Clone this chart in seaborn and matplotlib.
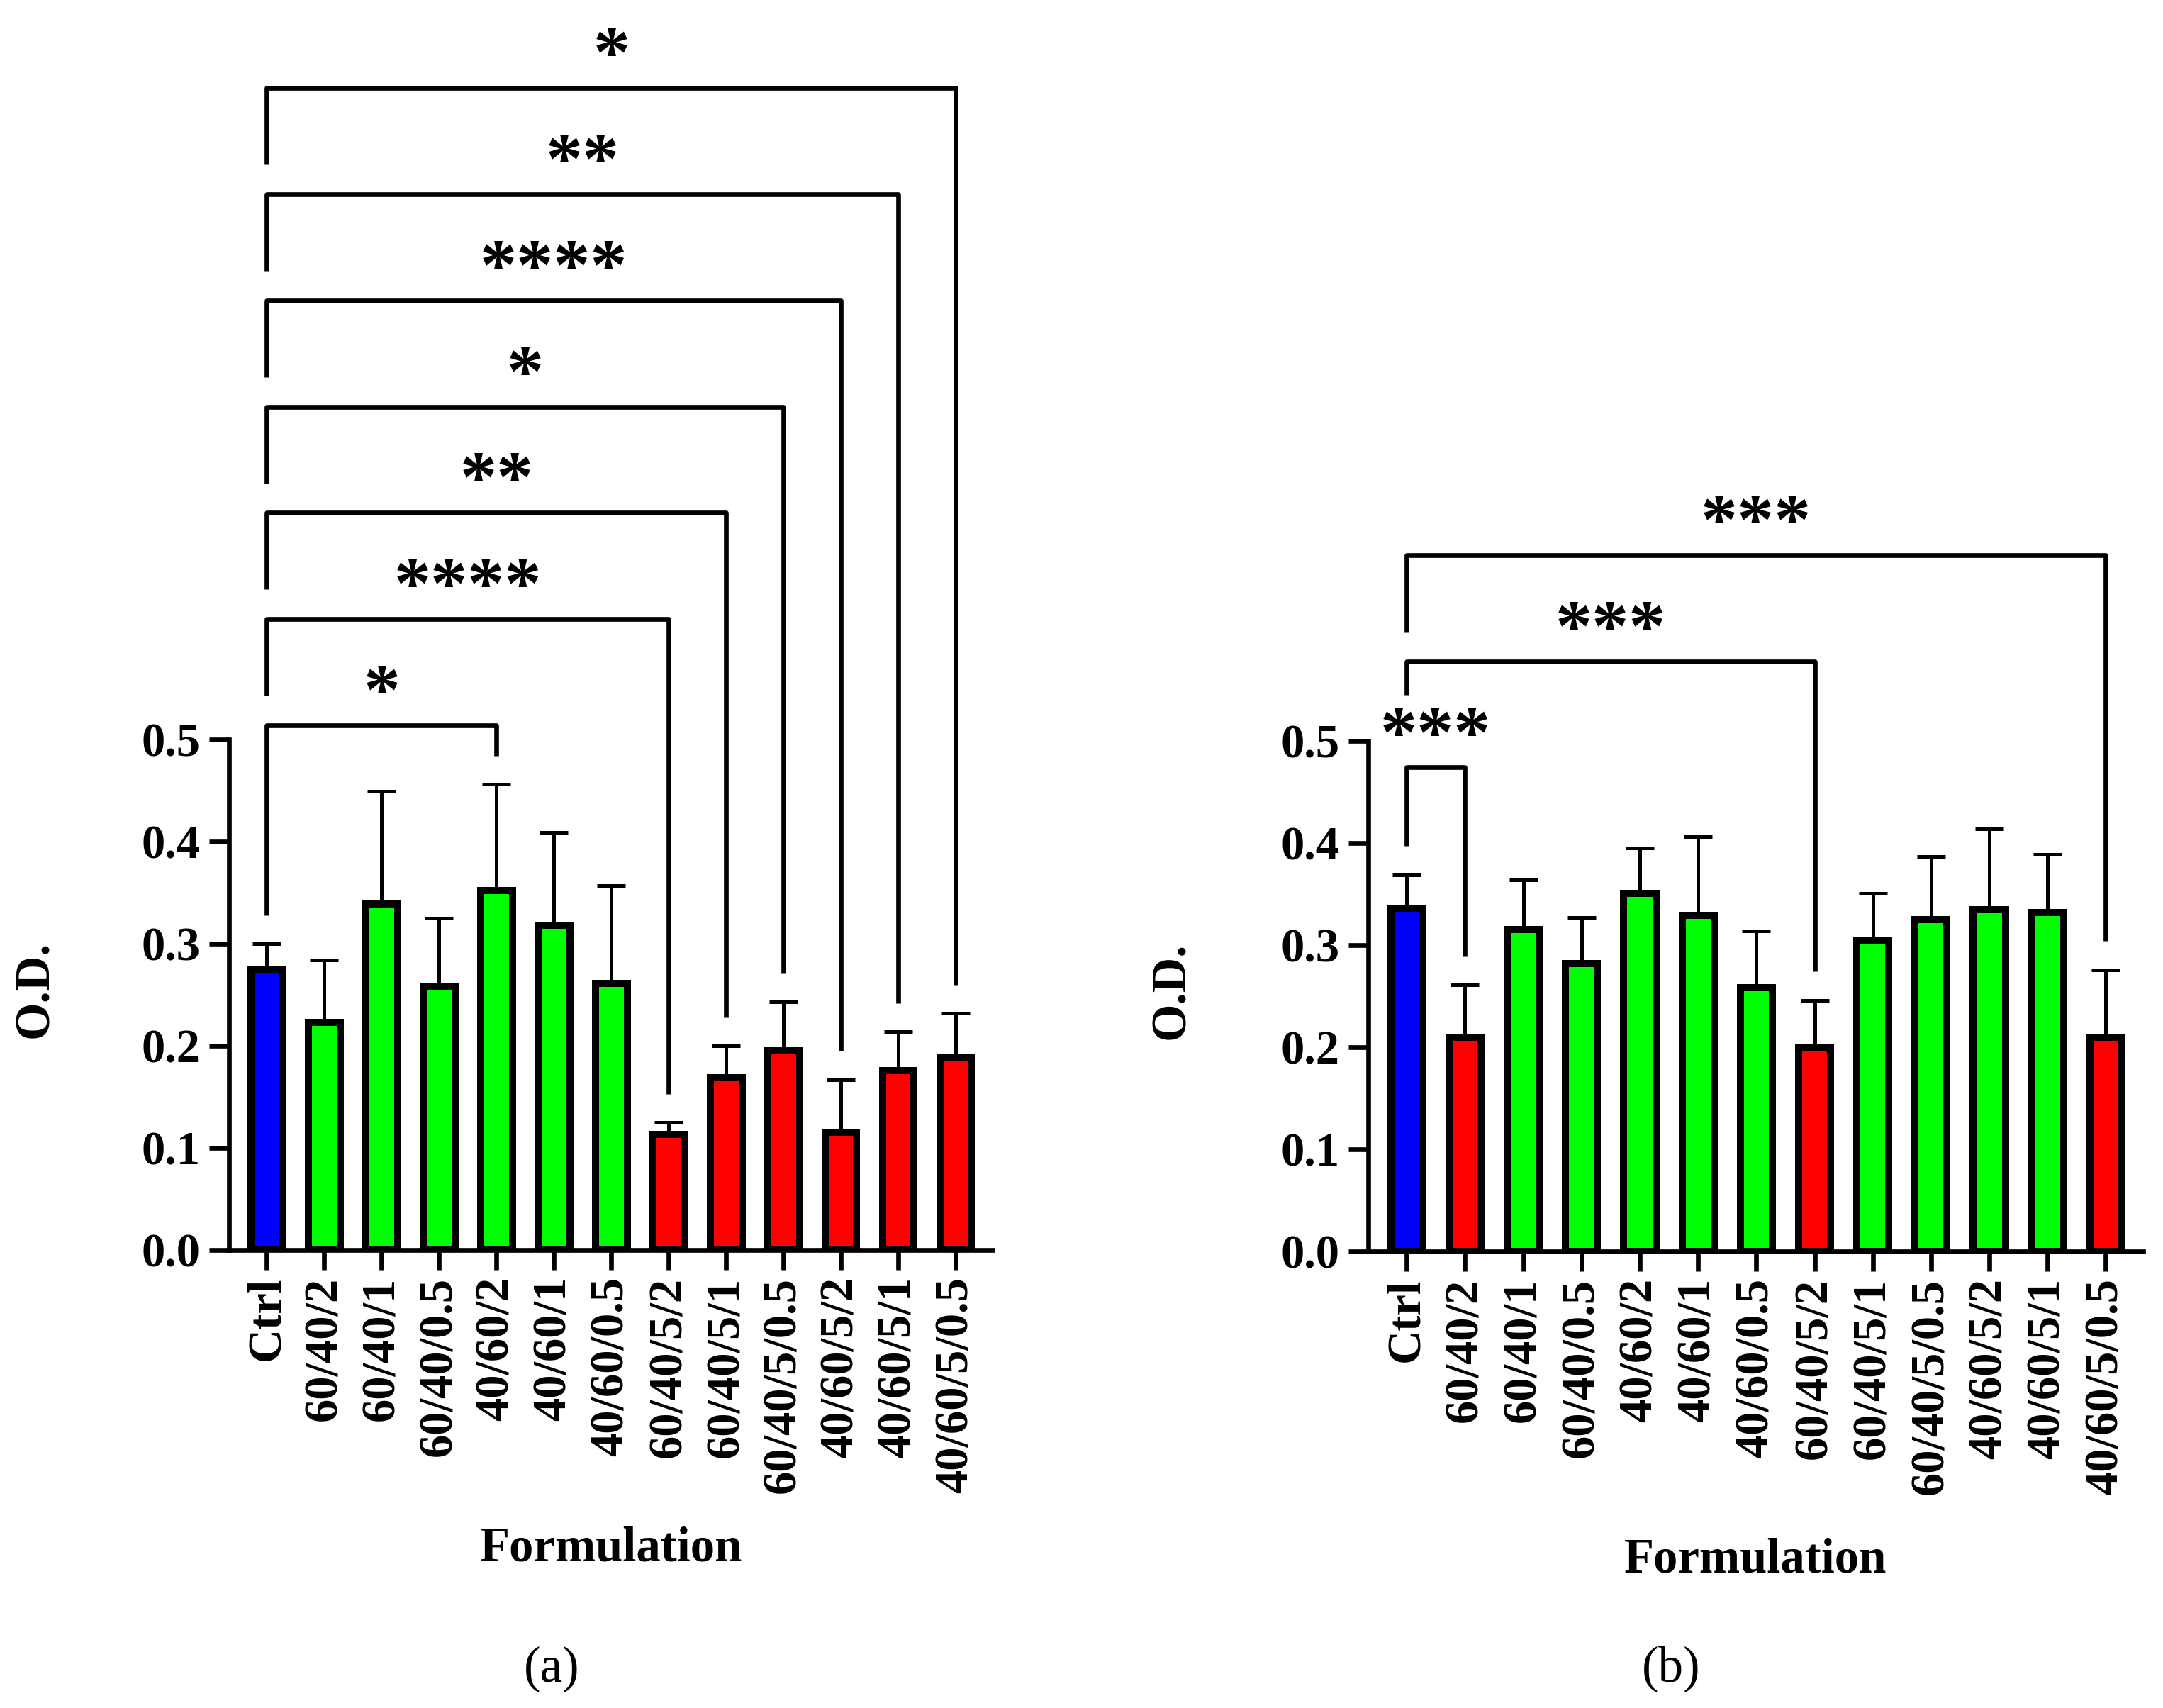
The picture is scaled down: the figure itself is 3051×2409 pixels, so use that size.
import numpy as np
import pandas as pd
import matplotlib
matplotlib.use("Agg")
import matplotlib.pyplot as plt
import seaborn as sns

# ---------------- data ----------------
categories = ["Ctrl", "60/40/2", "60/40/1", "60/40/0.5", "40/60/2", "40/60/1", "40/60/0.5",
              "60/40/5/2", "60/40/5/1", "60/40/5/0.5", "40/60/5/2", "40/60/5/1", "40/60/5/0.5"]

mean_a = [0.275, 0.223, 0.339, 0.258, 0.352, 0.318, 0.261, 0.113, 0.169, 0.195, 0.115, 0.176, 0.188]
sd_a = [0.025, 0.061, 0.110, 0.067, 0.104, 0.091, 0.096, 0.012, 0.031, 0.048, 0.052, 0.038, 0.044]
color_a = ["#0000FF"] + ["#00FF00"] * 6 + ["#FF0000"] * 6

mean_b = [0.336, 0.210, 0.315, 0.282, 0.351, 0.329, 0.258, 0.200, 0.304, 0.325, 0.335, 0.332, 0.210]
sd_b = [0.033, 0.051, 0.049, 0.045, 0.044, 0.077, 0.056, 0.046, 0.047, 0.062, 0.079, 0.057, 0.066]
color_b = ["#0000FF", "#FF0000", "#00FF00", "#00FF00", "#00FF00", "#00FF00", "#00FF00",
           "#FF0000", "#00FF00", "#00FF00", "#00FF00", "#00FF00", "#FF0000"]

# significance comparisons vs Ctrl
sig_targets_a = ["40/60/2", "60/40/5/2", "60/40/5/1", "60/40/5/0.5", "40/60/5/2", "40/60/5/1", "40/60/5/0.5"]
sig_labels_a = ["*", "****", "**", "*", "****", "**", "*"]
sig_levels_a = [0.514, 0.618, 0.722, 0.826, 0.930, 1.034, 1.138]
sig_leftleg_a = [0.328, 0.543, 0.647, 0.751, 0.855, 0.959, 1.063]

sig_targets_b = ["60/40/2", "60/40/5/2", "40/60/5/0.5"]
sig_labels_b = ["***", "***", "***"]
sig_levels_b = [0.474, 0.578, 0.682]
sig_leftleg_b = [0.397, 0.545, 0.606]

yticks = [0.0, 0.1, 0.2, 0.3, 0.4, 0.5]

# ---------------- style ----------------
sns.set_style("ticks")
plt.rcParams["font.family"] = ["Liberation Serif", "DejaVu Serif"]
plt.rcParams["font.weight"] = "bold"
plt.rcParams["axes.labelweight"] = "bold"
for k in ["text.color", "axes.labelcolor", "xtick.color", "ytick.color", "axes.edgecolor"]:
    plt.rcParams[k] = "black"

W, H = 3051, 2409
fig = plt.figure(figsize=(W / 300, H / 300), dpi=300)

LW_AX = 1.6
YTOP = 1.2


def draw_panel(ax, means, sds, colors, targets, labels, levels, leftlegs, xlabel_y):
    n = len(categories)
    df = pd.DataFrame({"Formulation": categories, "OD": means})
    sns.barplot(data=df, x="Formulation", y="OD", hue="Formulation", palette=colors,
                legend=False, width=0.55, edgecolor="black", linewidth=2.4,
                saturation=1, ax=ax, zorder=2)
    x = np.arange(n)
    ax.errorbar(x, means, yerr=[np.zeros(n), sds], fmt="none", ecolor="black",
                elinewidth=1.2, capsize=4.8, capthick=1.2, zorder=1.5)
    ax.set_xlim(-0.66, n - 1 + 0.64)
    ax.set_ylim(0, YTOP)
    ax.set_yticks(yticks)
    ax.set_yticklabels([f"{v:.1f}" for v in yticks])
    ax.spines["left"].set_bounds(0, 0.5)
    for s in ["top", "right"]:
        ax.spines[s].set_visible(False)
    for s in ["left", "bottom"]:
        ax.spines[s].set_linewidth(LW_AX)
        ax.spines[s].set_color("black")
    ax.tick_params(axis="both", width=LW_AX, length=6.7, color="black",
                   labelcolor="black", labelsize=16)
    ax.tick_params(axis="y", pad=3)
    ax.tick_params(axis="x", pad=2.4, labelrotation=90)
    ax.set_facecolor("none")

    ax.set_xlabel("Formulation", fontsize=16.5, fontweight="bold", color="black")
    ax.xaxis.label.set_va("center")
    ax.xaxis.set_label_coords(0.5, xlabel_y)
    ax.set_ylabel("O.D.", fontsize=16.5, fontweight="bold", color="black")
    ax.yaxis.label.set_va("center")
    ax.yaxis.set_label_coords(-0.253, 0.255 / YTOP)

    gap = 0.028
    for tgt, lab, lev, ll in zip(targets, labels, levels, leftlegs):
        j = categories.index(tgt)
        right_bottom = means[j] + sds[j] + gap
        ax.plot([0, 0, j, j], [ll, lev, lev, right_bottom], color="black",
                lw=1.6, clip_on=False, solid_capstyle="butt", zorder=3)
        ax.text(j / 2, lev + 0.011, lab, ha="center", va="baseline",
                fontsize=25, fontweight="heavy", color="black", clip_on=False)


ax_a = fig.add_axes([323 / W, (H - 1763) / H, 1077 / W, 1440 * YTOP / H])
ax_b = fig.add_axes([1930 / W, (H - 1765) / H, 1093 / W, 1440 * YTOP / H])

draw_panel(ax_a, mean_a, sd_a, color_a, sig_targets_a, sig_labels_a, sig_levels_a,
           sig_leftleg_a, -0.244)
draw_panel(ax_b, mean_b, sd_b, color_b, sig_targets_b, sig_labels_b, sig_levels_b,
           sig_leftleg_b, -0.252)

fig.text(778 / W, (H - 2354) / H, "(a)", ha="center", va="center", fontsize=17,
         fontweight="normal", color="black")
fig.text(2357 / W, (H - 2354) / H, "(b)", ha="center", va="center", fontsize=17,
         fontweight="normal", color="black")

fig.savefig("out.png", dpi=300, facecolor="white")
